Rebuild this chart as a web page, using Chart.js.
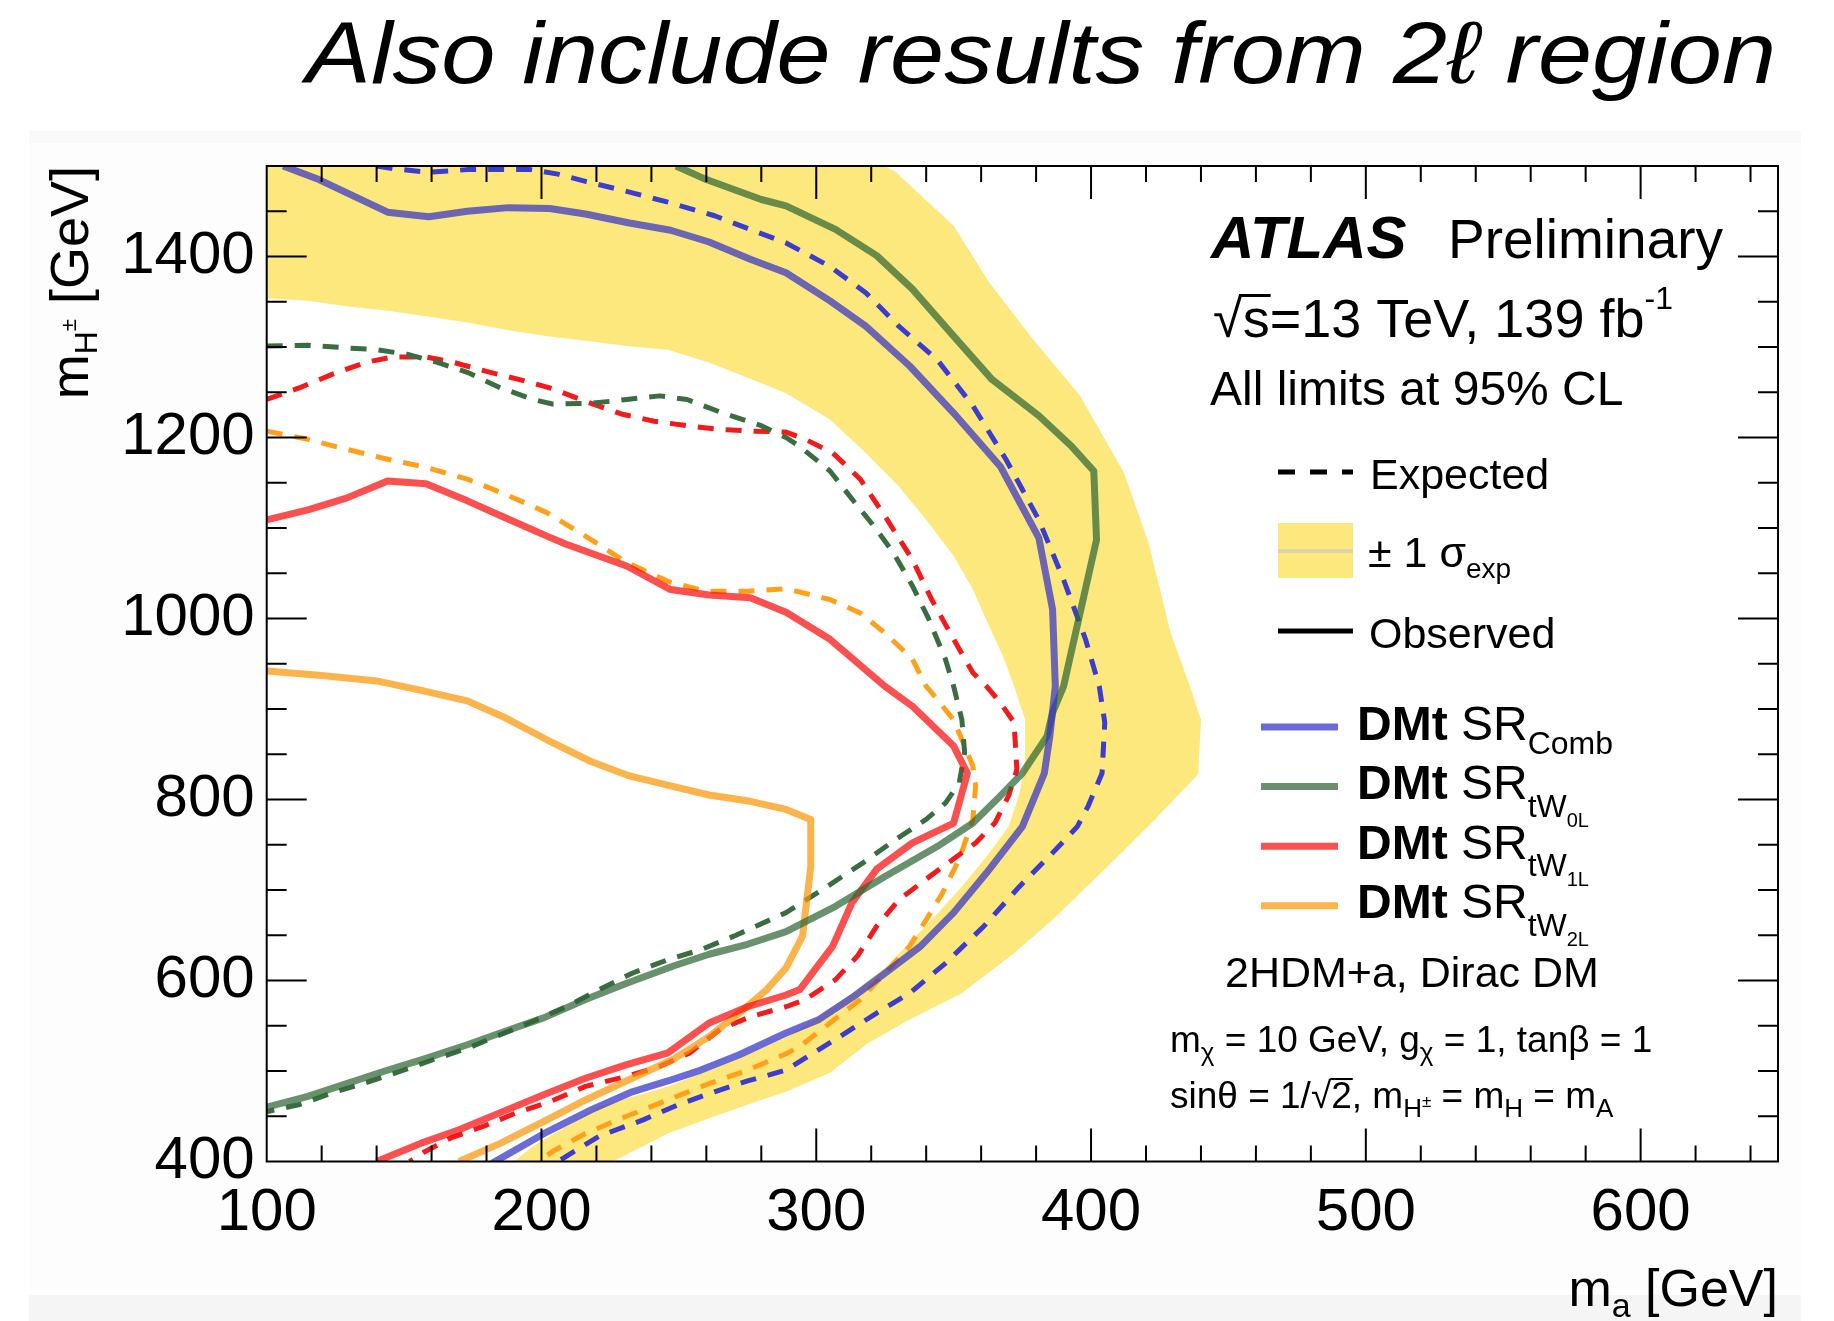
<!DOCTYPE html>
<html>
<head>
<meta charset="utf-8">
<script src="https://cdn.jsdelivr.net/npm/chart.js@4/dist/chart.umd.min.js"></script>
<style>
  html, body { margin: 0; padding: 0; background: #fff; }
  canvas { display: block; }
</style>
</head>
<body>
<canvas id="limitChart" width="1834" height="1321"></canvas>
<script>
// contour points, [m_a, m_H±] in GeV

// +-1 sigma band of the combined expected limit (inner edge, then outer edge)
const bandInner = [[100,1354],[115,1351],[129,1345],[144,1340],[158,1334],[173,1327],[187,1319],[202,1312],
  [216,1307],[231,1301],[246,1297],[261,1283],[275,1266],[289,1249],[305,1220],[318,1183],[330,1146],
  [340,1109],[350,1069],[357,1032],[363,991],[368,958],[372,925],[376,888],[376,844],[374,807],[370,770],
  [362,737],[353,704],[342,667],[335,645],[325,614],[313,586],[301,560],[289,537],[270,512],[246,483],
  [221,461],[209,439],[197,417],[190,400]];
const bandOuter = [[226,400],[246,431],[263,450],[280,468],[289,477],[305,498],[319,531],[334,557],
  [353,586],[372,630],[386,667],[405,723],[422,774],[439,828],[440,888],[436,925],[429,984],[421,1083],
  [412,1161],[396,1246],[379,1308],[363,1371],[350,1434],[329,1493],[325,1500],[100,1500]];

// DMt SR_Comb
const combObs = [[106,1500],[119,1485],[144,1449],[159,1444],[173,1450],[188,1454],[203,1453],[216,1447],
  [232,1437],[247,1429],[261,1416],[276,1397],[289,1382],[305,1351],[318,1323],[334,1279],[350,1227],
  [367,1168],[381,1089],[386,1010],[387,925],[385,870],[383,829],[375,770],[362,719],[350,675],[338,638],
  [325,608],[313,581],[301,557],[289,542],[272,518],[258,501],[246,489],[233,477],[218,457],[201,431],[182,398]];
const combExp = [[140,1500],[146,1497],[159,1493],[173,1496],[196,1496],[206,1491],[216,1483],[231,1472],
  [246,1460],[263,1445],[275,1431],[289,1415],[305,1389],[318,1360],[330,1323],[344,1286],[357,1235],
  [369,1176],[381,1109],[390,1043],[398,977],[403,925],[405,885],[404,829],[399,793],[395,770],[386,741],
  [374,704],[361,660],[347,619],[334,586],[322,564],[307,535],[289,501],[275,489],[263,477],[250,463],
  [237,446],[221,428],[207,402],[205,400]];

// DMt SR_tW0L
const tw0lObs = [[249,1500],[260,1485],[280,1463],[289,1456],[307,1430],[322,1401],[335,1364],[350,1312],
  [364,1264],[381,1224],[393,1190],[401,1163],[402,1087],[396,1006],[390,925],[386,896],[384,870],[375,829],
  [367,804],[357,774],[344,748],[325,715],[307,682],[289,654],[275,640],[261,629],[248,616],[231,597],
  [216,579],[201,559],[185,542],[173,529],[158,514],[143,500],[128,485],[115,472],[100,460]];
const tw0lExp = [[100,1301],[115,1302],[129,1299],[140,1297],[151,1292],[161,1284],[173,1272],[185,1255],
  [197,1242],[204,1237],[219,1238],[231,1242],[243,1246],[253,1242],[266,1227],[280,1213],[289,1200],
  [294,1190],[305,1163],[313,1132],[321,1102],[328,1073],[335,1036],[341,999],[347,955],[350,925],
  [353,888],[354,852],[352,818],[347,796],[340,778],[329,756],[317,730],[304,704],[289,675],[270,649],
  [258,634],[246,623],[233,608],[221,590],[209,571],[197,555],[185,540],[173,525],[161,513],[149,500],
  [136,487],[124,476],[112,463],[100,455]];

// DMt SR_tW1L
const tw1lObs = [[100,1109],[115,1120],[129,1133],[144,1152],[158,1149],[173,1130],[187,1111],[202,1091],
  [209,1082],[231,1058],[247,1032],[261,1026],[276,1023],[289,1007],[305,977],[325,925],[335,903],
  [350,859],[355,829],[350,774],[335,752],[322,723],[313,686],[306,638],[294,590],[289,584],[275,571],
  [261,553],[246,520],[231,507],[216,492],[201,474],[185,454],[170,435],[156,420],[140,400]];
const tw1lExp = [[100,1242],[112,1255],[124,1270],[136,1283],[146,1289],[158,1289],[168,1283],[180,1273],
  [192,1264],[204,1254],[216,1240],[229,1226],[241,1218],[253,1213],[265,1209],[277,1207],[289,1206],
  [296,1198],[306,1183],[316,1154],[325,1113],[335,1065],[342,1021],[350,977],[357,940],[362,925],
  [367,907],[372,885],[373,833],[370,804],[365,774],[358,752],[348,730],[340,712],[330,689],[322,660],
  [315,627],[307,601],[296,579],[289,571],[276,560],[265,546],[254,520],[243,505],[231,494],[216,483],
  [203,466],[191,454],[179,439],[167,426],[157,410],[152,400]];

// DMt SR_tW2L
const tw2lObs = [[100,942],[120,937],[140,931],[157,920],[173,909],[187,890],[202,866],[218,842],[232,826],
  [247,815],[261,805],[276,798],[289,789],[298,778],[298,726],[295,649],[289,614],[282,590],[272,564],
  [261,538],[248,513],[233,492],[216,468],[202,446],[185,420],[170,400]];
const tw2lExp = [[100,1207],[115,1198],[129,1187],[144,1176],[158,1167],[173,1154],[187,1137],[202,1117],
  [216,1091],[231,1062],[246,1041],[260,1030],[275,1030],[289,1033],[305,1021],[316,1006],[325,984],
  [335,955],[340,925],[342,918],[350,888],[357,837],[358,815],[357,778],[352,734],[346,697],[340,667],
  [334,638],[325,608],[316,579],[305,553],[294,527],[289,519],[275,501],[260,485],[246,468],[231,450],
  [216,431],[204,411],[199,400]];

// axis ranges and tick steps
const xRange = [100, 650];
const yRange = [400, 1500];
const xMajor = 100, xMinor = 20;
const yMajor = 200, yMinor = 50;

const COLORS = {
  band: '#fde87d',
  combObs: 'rgba(50,50,200,0.72)',  combExp: '#3c3cd0',
  tw0lObs: 'rgba(47,102,54,0.72)',  tw0lExp: '#3a6e40',
  tw1lObs: 'rgba(250,12,12,0.72)',  tw1lExp: '#f21a1a',
  tw2lObs: 'rgba(250,150,5,0.72)',  tw2lExp: '#ffa01a'
};

const FONT = "'Liberation Sans', Arial, Helvetica, sans-serif";
Chart.defaults.font.family = FONT;

const toXY = pts => pts.map(([x, y]) => ({x, y}));

function contour(label, pts, color, dashed) {
  return {
    label,
    data: toXY(pts),
    borderColor: color,
    backgroundColor: color,
    borderWidth: dashed ? 5 : 7,
    borderDash: dashed ? [16, 12] : [],
    borderJoinStyle: 'round',
    pointRadius: 0,
    tension: 0,
    fill: false,
    clip: 0,
    order: dashed ? 20 : 10
  };
}

// draws pieces [text, size, dy, fontPrefix, overbar] left to right, returns end x
function runText(ctx, x, y, pieces, draw = true) {
  let rootTop = null;
  for (const [t, size, dy = 0, pre = '', bar = false] of pieces) {
    ctx.font = `${pre} ${size}px ${FONT}`;
    const w = ctx.measureText(t).width;
    if (draw) {
      ctx.fillText(t, x, y + dy);
      if (t === '√') rootTop = y + dy - ctx.measureText(t).actualBoundingBoxAscent;
      if (bar && rootTop !== null) {
        ctx.save();
        ctx.strokeStyle = ctx.fillStyle;
        ctx.lineWidth = Math.max(2, size / 18);
        ctx.beginPath();
        ctx.moveTo(x - 1, rootTop + ctx.lineWidth / 2);
        ctx.lineTo(x + w + 1, rootTop + ctx.lineWidth / 2);
        ctx.stroke();
        ctx.restore();
      }
    }
    x += w;
  }
  return x;
}

function fitText(ctx, text, x, y, width) {
  const w = ctx.measureText(text).width;
  ctx.save();
  ctx.translate(x, y);
  ctx.scale(width / w, 1);
  ctx.fillText(text, 0, 0);
  ctx.restore();
}

const pageBackground = {
  id: 'pageBackground',
  beforeDraw(chart) {
    const {ctx, width, height, chartArea: a} = chart;
    ctx.save();
    ctx.fillStyle = '#ffffff';
    ctx.fillRect(0, 0, width, height);
    ctx.fillStyle = '#fdfdfd';
    ctx.fillRect(29, 131, 1772, height - 131);
    ctx.fillStyle = '#f9f9f9';
    ctx.fillRect(29, 131, 1772, 12);
    ctx.fillStyle = '#f5f5f5';
    ctx.fillRect(29, 1295, 1772, height - 1295);
    ctx.fillStyle = '#ffffff';
    ctx.fillRect(a.left, a.top, a.right - a.left, a.bottom - a.top);
    ctx.restore();
  }
};

// closed polygon fill for the sigma band
const bandFill = {
  id: 'bandFill',
  beforeDatasetsDraw(chart) {
    const {ctx, chartArea: a} = chart;
    chart.data.datasets.forEach((ds, i) => {
      if (!ds.band) return;
      const pts = chart.getDatasetMeta(i).data;
      ctx.save();
      ctx.beginPath();
      ctx.rect(a.left, a.top, a.right - a.left, a.bottom - a.top);
      ctx.clip();
      ctx.beginPath();
      pts.forEach((p, k) => k ? ctx.lineTo(p.x, p.y) : ctx.moveTo(p.x, p.y));
      ctx.closePath();
      ctx.fillStyle = ds.backgroundColor;
      ctx.fill();
      ctx.restore();
    });
  }
};

// ROOT style frame with inward ticks on all four sides
const frameTicks = {
  id: 'frameTicks',
  afterDatasetsDraw(chart) {
    const {ctx, chartArea: a, scales: {x, y}} = chart;
    ctx.save();
    ctx.strokeStyle = '#000';
    ctx.lineWidth = 2;
    ctx.strokeRect(a.left, a.top, a.right - a.left, a.bottom - a.top);
    ctx.beginPath();
    for (let v = xRange[0] + xMinor; v < xRange[1]; v += xMinor) {
      const px = x.getPixelForValue(v);
      const len = v % xMajor === 0 ? 33 : 16;
      ctx.moveTo(px, a.bottom); ctx.lineTo(px, a.bottom - len);
      ctx.moveTo(px, a.top); ctx.lineTo(px, a.top + len);
    }
    for (let v = yRange[0] + yMinor; v < yRange[1]; v += yMinor) {
      const py = y.getPixelForValue(v);
      const len = v % yMajor === 0 ? 40 : 20;
      ctx.moveTo(a.left, py); ctx.lineTo(a.left + len, py);
      ctx.moveTo(a.right, py); ctx.lineTo(a.right - len, py);
    }
    ctx.stroke();
    ctx.restore();
  }
};

const legendItems = [
  {color: COLORS.combObs, sub: 'Comb', sub2: ''},
  {color: COLORS.tw0lObs, sub: 'tW', sub2: '0L'},
  {color: COLORS.tw1lObs, sub: 'tW', sub2: '1L'},
  {color: COLORS.tw2lObs, sub: 'tW', sub2: '2L'}
];

const annotations = {
  id: 'annotations',
  afterDraw(chart) {
    const {ctx} = chart;
    ctx.save();
    ctx.fillStyle = '#000';
    ctx.strokeStyle = '#000';
    ctx.textBaseline = 'alphabetic';
    ctx.textAlign = 'left';

    // slide heading
    ctx.font = `italic 88px ${FONT}`;
    fitText(ctx, 'Also include results from 2ℓ region', 306, 83, 1470);

    // axis titles
    const xTitle = [['m', 52], ['a', 34, 11], [' [GeV]', 52]];
    const xw = runText(ctx, 0, 0, xTitle, false);
    runText(ctx, 1778 - xw, 1306, xTitle);

    const yTitle = [['m', 54], ['H', 32, 9], ['±', 22, -12], [' [GeV]', 54]];
    const yw = runText(ctx, 0, 0, yTitle, false);
    ctx.save();
    ctx.translate(88, 166 + yw);
    ctx.rotate(-Math.PI / 2);
    runText(ctx, 0, 0, yTitle);
    ctx.restore();

    // experiment label
    ctx.font = `italic bold 60px ${FONT}`;
    ctx.fillText('ATLAS', 1211, 258);
    ctx.font = `55px ${FONT}`;
    ctx.fillText('Preliminary', 1448, 258);
    runText(ctx, 1213, 337, [['√', 54], ['s', 54, 0, '', true], ['=13 TeV, 139 fb', 54], ['-1', 32, -28]]);
    ctx.font = `48px ${FONT}`;
    ctx.fillText('All limits at 95% CL', 1210, 405);

    // line style key
    ctx.lineWidth = 5;
    ctx.setLineDash([17, 15]);
    ctx.beginPath(); ctx.moveTo(1278, 472); ctx.lineTo(1353, 472); ctx.stroke();
    ctx.setLineDash([]);
    ctx.beginPath(); ctx.moveTo(1278, 631); ctx.lineTo(1353, 631); ctx.stroke();
    ctx.fillStyle = COLORS.band;
    ctx.fillRect(1278, 523, 75, 55);
    ctx.strokeStyle = '#dcd4a8';
    ctx.lineWidth = 4;
    ctx.beginPath(); ctx.moveTo(1278, 551); ctx.lineTo(1353, 551); ctx.stroke();
    ctx.fillStyle = '#000';
    ctx.font = `43px ${FONT}`;
    ctx.fillText('Expected', 1370, 489);
    ctx.fillText('Observed', 1369, 648);
    runText(ctx, 1368, 567, [['± 1 σ', 43], ['exp', 28, 11]]);

    // signal region key
    legendItems.forEach((it, i) => {
      const ly = 727 + i * 59.6;
      const by = 740 + i * 59.4;
      ctx.strokeStyle = it.color;
      ctx.lineWidth = 7;
      ctx.beginPath(); ctx.moveTo(1261, ly); ctx.lineTo(1338, ly); ctx.stroke();
      const pieces = [['DMt', 48, 0, 'bold'], [' SR', 48]];
      if (it.sub2) {
        pieces.push([it.sub, 32, 17.5], [it.sub2, 20, 27.5]);
      } else {
        pieces.push([it.sub, 32, 14]);
      }
      runText(ctx, 1357, by, pieces);
    });

    // model parameters
    ctx.strokeStyle = '#000';
    ctx.font = `43px ${FONT}`;
    ctx.fillText('2HDM+a, Dirac DM', 1225, 987);
    runText(ctx, 1170, 1052, [['m', 37], ['χ', 26, 9], [' = 10 GeV, g', 37], ['χ', 26, 9], [' = 1, tanβ = 1', 37]]);
    runText(ctx, 1170, 1108, [['sinθ = 1/', 37], ['√', 37], ['2', 37, 0, '', true], [', m', 37], ['H', 26, 9],
      ['±', 17, -1], [' = m', 37], ['H', 26, 9], [' = m', 37], ['A', 26, 9]]);
    ctx.restore();
  }
};

new Chart(document.getElementById('limitChart').getContext('2d'), {
  type: 'line',
  data: {
    datasets: [
      contour('DMt SR_Comb observed', combObs, COLORS.combObs, false),
      contour('DMt SR_tW0L observed', tw0lObs, COLORS.tw0lObs, false),
      contour('DMt SR_tW1L observed', tw1lObs, COLORS.tw1lObs, false),
      contour('DMt SR_tW2L observed', tw2lObs, COLORS.tw2lObs, false),
      contour('DMt SR_Comb expected', combExp, COLORS.combExp, true),
      contour('DMt SR_tW0L expected', tw0lExp, COLORS.tw0lExp, true),
      contour('DMt SR_tW1L expected', tw1lExp, COLORS.tw1lExp, true),
      contour('DMt SR_tW2L expected', tw2lExp, COLORS.tw2lExp, true),
      {
        label: '±1σ expected',
        band: true,
        data: toXY([...bandInner, ...bandOuter]),
        showLine: false,
        pointRadius: 0,
        backgroundColor: COLORS.band,
        borderColor: COLORS.band,
        order: 30
      }
    ]
  },
  options: {
    responsive: false,
    animation: false,
    devicePixelRatio: 1,
    layout: { padding: { left: 0, top: 166, right: 56, bottom: 0 } },
    plugins: {
      legend: { display: false },
      tooltip: { enabled: false },
      title: { display: false }
    },
    scales: {
      x: {
        type: 'linear',
        min: xRange[0], max: xRange[1],
        grid: { display: false, drawTicks: false },
        border: { display: false },
        ticks: {
          stepSize: xMajor, includeBounds: false, autoSkip: false, maxRotation: 0,
          color: '#000', padding: 22, font: { size: 60, lineHeight: 1 },
          callback: v => String(v)
        },
        afterFit: s => { s.height = 159.5; }
      },
      y: {
        type: 'linear',
        min: yRange[0], max: yRange[1],
        grid: { display: false, drawTicks: false },
        border: { display: false },
        ticks: {
          stepSize: yMajor, includeBounds: false, autoSkip: false,
          color: '#000', padding: 12, font: { size: 60, lineHeight: 1 },
          callback: v => String(v)
        },
        afterFit: s => { s.width = 266.7; }
      }
    }
  },
  plugins: [pageBackground, bandFill, frameTicks, annotations]
});
</script>
</body>
</html>
